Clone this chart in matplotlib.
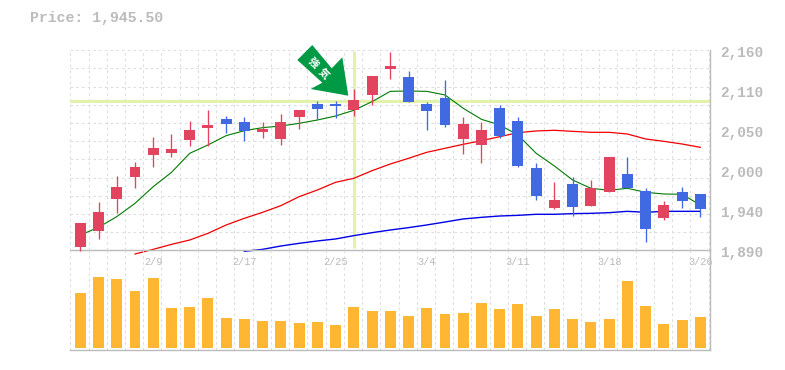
import matplotlib
matplotlib.use('Agg')
import matplotlib.pyplot as plt
from matplotlib.patches import Polygon
import numpy as np

# daily candles, oldest first
opens = [1894.5, 1916.0, 1959.3, 1988.9, 2018.7, 2021.4, 2038.9, 2055.1, 2067.2, 2063.2, 2049.7, 2040.2,
         2069.9, 2087.5, 2087.5, 2079.4, 2099.7, 2134.8, 2123.9, 2087.5, 2095.6, 2040.2, 2032.2, 2082.1,
         2064.5, 2001.1, 1947.1, 1979.5, 1949.8, 1968.7, 1993.0, 1970.0, 1933.6, 1968.7, 1966.0]
closes = [1926.9, 1941.7, 1975.4, 2002.4, 2028.1, 2026.7, 2052.4, 2059.2, 2060.5, 2051.1, 2053.8, 2063.2,
          2079.4, 2080.7, 2084.8, 2092.9, 2125.3, 2138.8, 2090.2, 2078.0, 2059.2, 2060.5, 2052.4, 2044.3,
          2003.8, 1963.3, 1957.9, 1948.5, 1974.1, 2015.9, 1974.1, 1918.8, 1951.2, 1956.6, 1945.5]
highs = [1926.9, 1955.2, 1990.3, 2009.2, 2043.0, 2047.0, 2064.5, 2079.4, 2071.3, 2069.9, 2063.2, 2074.0,
         2079.4, 2091.6, 2091.6, 2107.8, 2125.3, 2157.7, 2132.0, 2090.2, 2119.9, 2069.9, 2063.2, 2086.2,
         2069.9, 2007.8, 1982.2, 1988.9, 1984.9, 2015.9, 2015.9, 1974.1, 1956.6, 1975.4, 1966.0]
lows = [1889.0, 1905.3, 1940.4, 1974.1, 2002.4, 2015.9, 2030.8, 2030.8, 2048.4, 2037.6, 2041.6, 2032.2,
        2053.8, 2067.2, 2068.6, 2071.3, 2086.2, 2121.2, 2090.2, 2052.4, 2056.5, 2020.0, 2007.8, 2041.6,
        2002.4, 1957.9, 1945.7, 1936.3, 1949.8, 1968.7, 1974.1, 1901.2, 1930.9, 1947.1, 1935.0]
volumes = [55, 71, 69, 57, 70, 40, 41, 50, 30, 29, 27, 27, 25, 26, 23, 41, 37, 37,
           32, 40, 34, 35, 45, 39, 44, 32, 39, 29, 26, 29, 67, 42, 24, 28, 31]

# moving averages, the longer ones start later
ma_short = [1910.6, 1921.0, 1935.4, 1953.4, 1975.9, 1995.2, 2020.9, 2032.2, 2044.8, 2051.5, 2055.6, 2057.8,
            2061.4, 2065.9, 2071.3, 2079.0, 2090.7, 2104.6, 2105.0, 2104.6, 2099.7, 2081.7, 2066.8, 2059.2,
            2045.7, 2020.9, 2003.8, 1984.9, 1973.7, 1971.0, 1973.7, 1968.3, 1966.0, 1965.6, 1951.2]
ma_mid = [1885.0, 1891.3, 1898.0, 1903.9, 1912.9, 1924.2, 1933.2, 1941.3, 1950.3, 1962.4, 1971.4, 1981.8,
          1987.2, 1997.5, 2006.5, 2014.2, 2022.3, 2027.7, 2033.1, 2038.0, 2043.4, 2048.8, 2051.1, 2052.0,
          2050.6, 2049.3, 2049.3, 2047.0, 2040.3, 2037.1, 2033.5, 2029.0]
ma_long = [1888.6, 1891.3, 1895.8, 1899.4, 1902.6, 1905.3, 1909.8, 1913.8, 1917.4, 1920.6, 1924.2, 1928.2,
           1932.3, 1934.5, 1936.3, 1937.2, 1938.6, 1938.6, 1939.5, 1939.9, 1940.8, 1942.6, 1941.3, 1942.6,
           1942.6, 1942.6]

price_ticks = [2160, 2106, 2052, 1998, 1944, 1890]
price_labels = ['2,160', '2,110', '2,050', '2,000', '1,940', '1,890']
date_idx = [4, 9, 14, 19, 24, 29, 34]
date_labels = ['2/9', '2/17', '2/25', '3/4', '3/11', '3/18', '3/26']
mark_idx = 15
mark_price = 2092

W, H = 785, 370
UP = '#e2435f'
DOWN = '#4169e1'
GRAY = '#bbbbbb'
GRID = '#dddddd'
MARK = '#e2f2a8'
MONO = 'Liberation Mono'

fig = plt.figure(figsize=(W / 100, H / 100), dpi=100)
ax = fig.add_axes([70.3 / W, 1 - 250.3 / H, 640 / W, 200 / H])
ax2 = fig.add_axes([70.3 / W, 1 - 350.3 / H, 640 / W, 100 / H])

x = np.arange(len(opens))
x_left, x_right = -0.548, 34.548
grid_x = x_left + np.arange(36)
grid_y = np.linspace(1890, 2160, 12)

for a in (ax, ax2):
    a.set_xlim(x_left, x_right)
    a.set_xticks(grid_x)
    a.tick_params(length=0, labelbottom=False, labelleft=False)
    a.grid(True, axis='x', color=GRID, lw=0.75, ls=(0, (2.5, 3)))
    a.set_axisbelow(True)
    a.patch.set_alpha(0)
    for s in ['left', 'top']:
        a.spines[s].set_visible(False)
    for s in ['right', 'bottom']:
        a.spines[s].set_color(GRAY)
        a.spines[s].set_linewidth(1.0)

ax.set_ylim(1890, 2160)
ax.set_yticks(grid_y)
ax.grid(True, axis='y', color=GRID, lw=0.75, ls=(0, (2.5, 3)))

# highlight lines
ax.axhline(mark_price, color=MARK, lw=2.2, zorder=1.5)
ax.plot([mark_idx, mark_idx], [1893, 2159], color=MARK, lw=2.2, zorder=1.5, solid_capstyle='butt')

# moving averages
ax.plot(x, ma_short, color='#007a00', lw=0.8, zorder=2)
ax.plot(x[3:], ma_mid, color='#f00000', lw=0.9, zorder=2, clip_on=False)
ax.plot(x[9:], ma_long, color='#0000e6', lw=1.0, zorder=2, clip_on=False)

# candles
colors = [UP if c >= o else DOWN for o, c in zip(opens, closes)]
ax.vlines(x, lows, highs, colors=colors, lw=0.95, zorder=3, clip_on=False)
ax.bar(x, np.abs(np.array(closes) - np.array(opens)), bottom=np.minimum(opens, closes),
       width=0.6, color=colors, zorder=3)

# volume
ax2.set_ylim(-2.3, 97.7)
ax2.set_yticks([])
ax2.bar(x, volumes, width=0.6, color='#ffb733', zorder=3)
for i, label in zip(date_idx, date_labels):
    ax2.annotate(label, (i, 1), xycoords=('data', 'axes fraction'), xytext=(0, -12), textcoords='offset pixels',
                 ha='center', va='center', color=GRAY, family=MONO, fontsize=7.4, annotation_clip=False)

# price axis labels
for p, label in zip(price_ticks, price_labels):
    ax.annotate(label, (1, p), xycoords=('axes fraction', 'data'), xytext=(10, -3), textcoords='offset pixels',
                ha='left', va='center', color=GRAY, family=MONO, fontsize=10.4, weight='bold')

fig.text(30 / W, 1 - 18 / H, 'Price: 1,945.50', color=GRAY, family=MONO, fontsize=10.7, weight='bold',
         ha='left', va='center')

# arrow marker at the signal candle
arrow_px = [(312.3, 45), (297.3, 60), (322.3, 82.7), (310.7, 89), (348.3, 95.7), (342.3, 57.3), (331.7, 68.3)]
arrow_fig = [(px / W, 1 - py / H) for px, py in arrow_px]
fig.add_artist(Polygon(arrow_fig, closed=True, transform=fig.transFigure, color='#009944', lw=0, zorder=6))
for ch, (px, py) in zip('強気', [(313.3, 62.7), (323.3, 73.3)]):
    fig.text(px / W, 1 - py / H, ch, color='white', rotation=-45, ha='center', va='center',
             family=['Noto Sans CJK JP', 'DejaVu Sans'], fontsize=7.5, weight='bold', zorder=7)

fig.savefig('out.png', dpi=100)
